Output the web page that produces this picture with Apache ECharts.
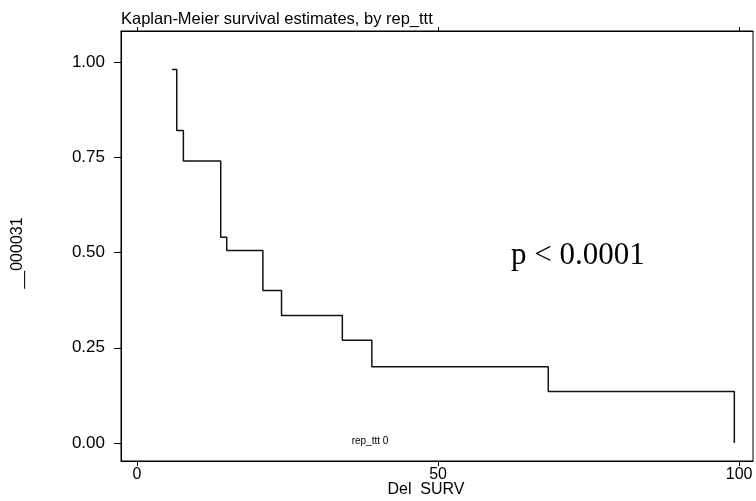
<!DOCTYPE html>
<html>
<head>
<meta charset="utf-8">
<script src="https://cdn.jsdelivr.net/npm/echarts@6/dist/echarts.min.js"></script>
<style>
  html, body { margin: 0; padding: 0; background: #fff; }
  #chart { width: 756px; height: 501px; }
</style>
</head>
<body>
<div id="chart"></div>
<script>
'use strict'

// step times (Del SURV) and survival estimate after each step
var times    = [5.8, 6.6, 7.7, 13.9, 14.9, 20.9, 24.0, 34.1, 39.0, 68.3, 99.2];
var survival = [0.98, 0.82, 0.74, 0.54, 0.505, 0.40, 0.335, 0.27, 0.20, 0.135, 0.0];
var xTicks = [0, 50, 100];
var yTicks = [0, 0.25, 0.5, 0.75, 1];

var titleText = 'Kaplan-Meier survival estimates, by rep_ttt';
var pText = 'p < 0.0001';

var myChart = echarts.init(document.getElementById('chart'));

var points = times.map(function (t, i) {
    return [t, survival[i]];
});

var axisFont = { color: '#000', fontFamily: 'Liberation Sans', fontSize: 16 };

var option = {
    backgroundColor: '#fff',
    animation: false,
    grid: {
        left: 121,
        right: 3,
        top: 31,
        bottom: 40,
        show: true,
        borderColor: '#000',
        borderWidth: 1
    },
    xAxis: [
        {
            type: 'value',
            position: 'bottom',
            min: -2.66,
            max: 102.3,
            axisLine: { show: true, onZero: false, lineStyle: { color: '#000', width: 1 } },
            axisTick: { show: true, customValues: xTicks, length: 5, lineStyle: { color: '#000' } },
            axisLabel: Object.assign({ customValues: xTicks, margin: 6 }, axisFont),
            splitLine: { show: false }
        },
        {
            type: 'value',
            position: 'top',
            min: -2.66,
            max: 102.3,
            axisLine: { show: true, onZero: false, lineStyle: { color: '#000', width: 1 } },
            axisTick: { show: true, customValues: xTicks, length: 4, lineStyle: { color: '#000' } },
            axisLabel: { show: false },
            splitLine: { show: false }
        }
    ],
    yAxis: {
        type: 'value',
        min: -0.047,
        max: 1.081,
        axisLine: { show: true, onZero: false, lineStyle: { color: '#000', width: 1 } },
        axisTick: { show: true, customValues: yTicks, length: 7, lineStyle: { color: '#000' } },
        axisLabel: Object.assign({}, axisFont, {
            customValues: yTicks,
            margin: 16,
            fontSize: 17,
            formatter: function (v) { return v.toFixed(2); }
        }),
        splitLine: { show: false }
    },
    series: [
        {
            name: 'rep_ttt 0',
            type: 'line',
            step: 'end',
            symbol: 'none',
            lineStyle: { color: '#111', width: 1.5 },
            data: points
        }
    ],
    graphic: [
        {
            type: 'text', left: 121, top: 11,
            style: { text: titleText, fill: '#000', font: '16.5px "Liberation Sans"' }
        },
        {
            type: 'text', x: 18, y: 253, rotation: Math.PI / 2,
            style: { text: '__000031', fill: '#000', font: '16px "Liberation Sans"', align: 'center', verticalAlign: 'middle' }
        },
        {
            type: 'text', x: 426, y: 490,
            style: { text: 'Del  SURV', fill: '#000', font: '16px "Liberation Sans"', align: 'center', verticalAlign: 'middle' }
        },
        {
            type: 'text', x: 370, y: 441,
            style: { text: 'rep_ttt 0', fill: '#000', font: '10px "Liberation Sans"', align: 'center', verticalAlign: 'middle' }
        },
        {
            type: 'text', x: 511, y: 256,
            style: { text: pText, fill: '#000', font: '31px "Liberation Serif"', align: 'left', verticalAlign: 'middle' }
        }
    ]
};

myChart.setOption(option);
</script>
</body>
</html>
